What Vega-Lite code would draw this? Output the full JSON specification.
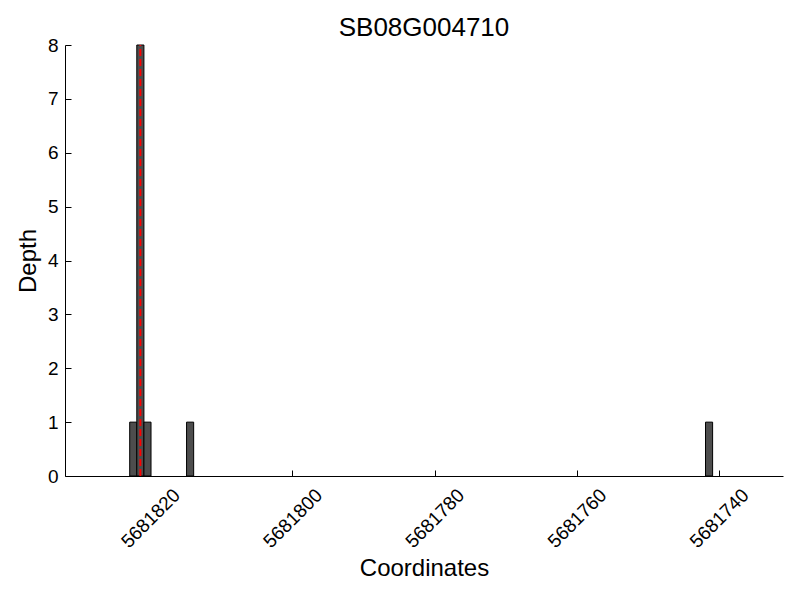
{
  "$schema": "https://vega.github.io/schema/vega-lite/v6.json",
  "width": 718,
  "height": 431,
  "autosize": "none",
  "padding": {"left": 65, "top": 45, "right": 17, "bottom": 124},
  "background": "white",
  "config": {
    "font": "Liberation Sans",
    "view": {"stroke": null},
    "axis": {"grid": false, "domainColor": "black", "tickColor": "black", "labelColor": "black", "titleColor": "black", "titleFontWeight": "normal", "labelFont": "Liberation Sans", "titleFont": "Liberation Sans"}
  },
  "title": {"text": "SB08G004710", "fontSize": 26, "fontWeight": "normal", "font": "Liberation Sans", "color": "black", "anchor": "middle", "offset": -5},
  "datasets": {
    "bins": [
      {"start": 5681821.9, "end": 5681822.9, "depth": 1},
      {"start": 5681820.9, "end": 5681821.9, "depth": 8},
      {"start": 5681819.9, "end": 5681820.9, "depth": 1},
      {"start": 5681813.9, "end": 5681814.9, "depth": 1},
      {"start": 5681740.9, "end": 5681741.9, "depth": 1}
    ],
    "marker": [{"pos": 5681821.4, "low": 0, "high": 8}]
  },
  "layer": [
    {
      "data": {"name": "bins"},
      "mark": {"type": "rect", "fill": "#4d4d4d", "stroke": "black", "strokeWidth": 1},
      "encoding": {
        "x": {
          "field": "start", "type": "quantitative",
          "scale": {"domain": [5681731, 5681832], "reverse": true, "nice": false, "zero": false},
          "axis": {"title": "Coordinates", "values": [5681820, 5681800, 5681780, 5681760, 5681740], "format": "d", "labelAngle": -45, "labelAlign": "center", "labelBaseline": "middle", "labelFontSize": 19, "titleFontSize": 24, "tickSize": -6, "labelPadding": 48, "titlePadding": 5, "domainWidth": 1, "labelFlush": false, "labelOverlap": false}
        },
        "x2": {"field": "end"},
        "y": {
          "field": "depth", "type": "quantitative",
          "scale": {"domain": [0, 8], "nice": false},
          "axis": {"title": "Depth", "values": [0, 1, 2, 3, 4, 5, 6, 7, 8], "labelFontSize": 19, "titleFontSize": 24, "tickSize": -6, "labelPadding": 13, "titlePadding": 7, "labelFlush": false, "labelOverlap": false}
        },
        "y2": {"datum": 0}
      }
    },
    {
      "data": {"name": "marker"},
      "mark": {"type": "rule", "color": "red", "strokeWidth": 2, "strokeDash": [7, 3]},
      "encoding": {
        "x": {"field": "pos", "type": "quantitative"},
        "y": {"field": "low", "type": "quantitative"},
        "y2": {"field": "high"}
      }
    }
  ]
}
